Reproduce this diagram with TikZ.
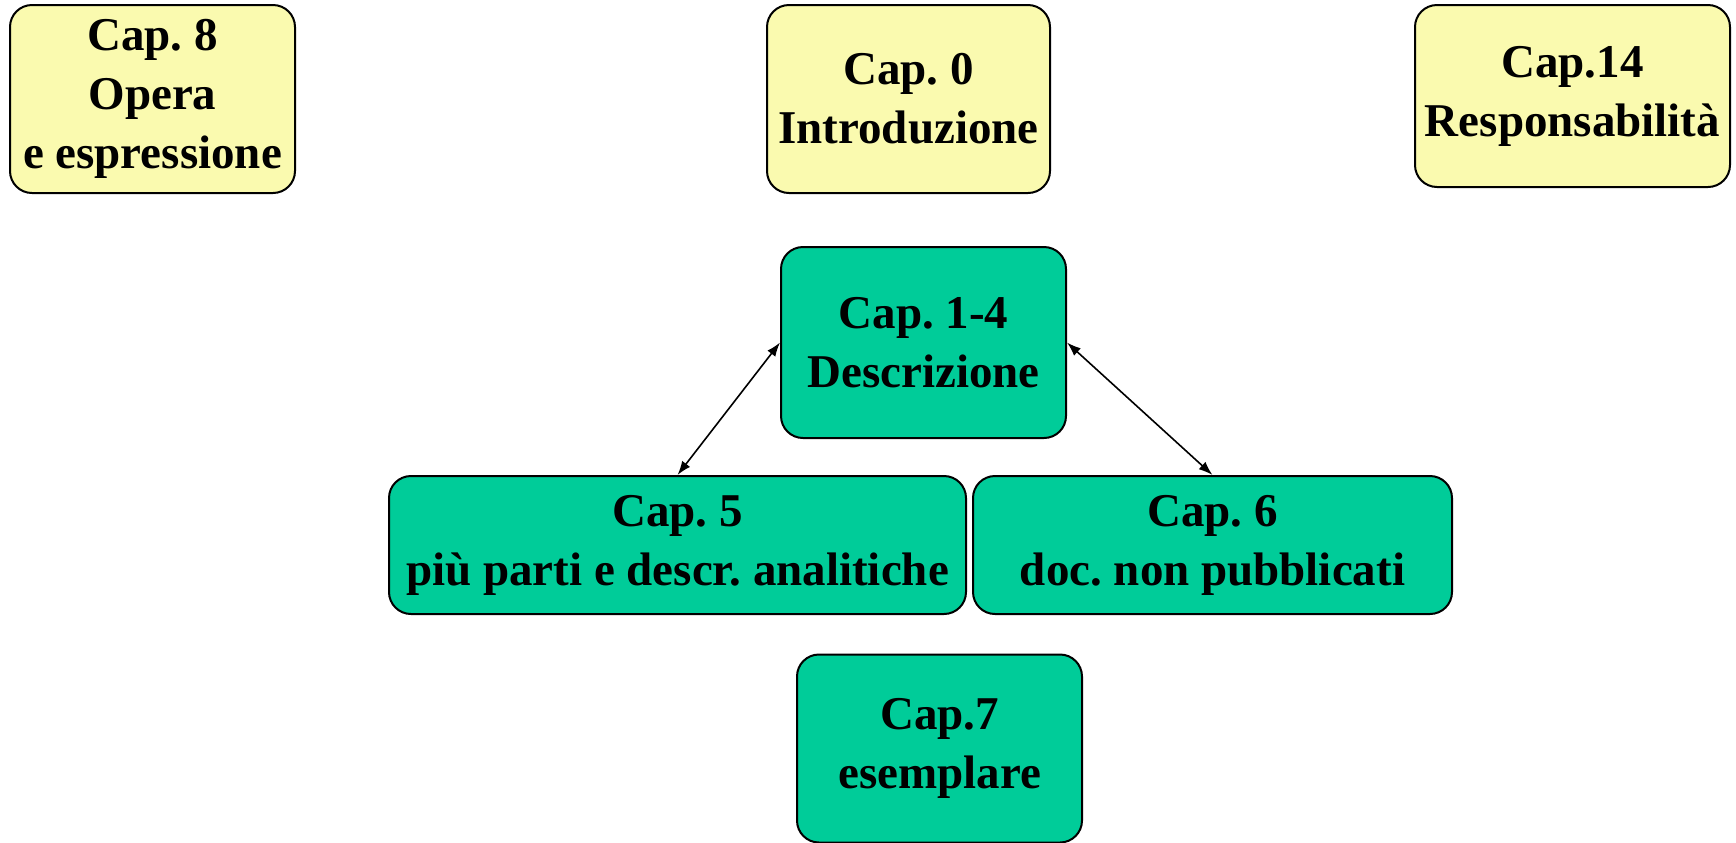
\documentclass[tikz,border=0pt]{standalone}
\usepackage{fontspec}
\setmainfont{Liberation Serif}
\usetikzlibrary{arrows.meta}
\definecolor{boxyellow}{RGB}{250,250,175}
\definecolor{boxgreen}{RGB}{0,204,153}
\tikzset{
  chap/.style={draw=black, line width=1pt, rounded corners=11pt, inner sep=0pt,
    align=center, font=\fontsize{23.5pt}{29.5pt}\selectfont\bfseries\frenchspacing},
  yellowbox/.style={chap, fill=boxyellow},
  greenbox/.style={chap, fill=boxgreen},
  link/.style={line width=0.8pt, {Latex[length=7pt,width=5pt]}-{Latex[length=7pt,width=5pt]}}
}
\begin{document}
\frenchspacing
\begin{tikzpicture}[x=0.5pt,y=-0.5pt]
\useasboundingbox (0,0) rectangle (1736,842);
\node[yellowbox, minimum width=142.5pt, minimum height=94pt] (c8) at (152.5,99) {Cap. 8\\Opera\\e espressione};
\node[yellowbox, minimum width=141.5pt, minimum height=94pt] (c0) at (908.5,99) {Cap. 0\\Introduzione};
\node[yellowbox, minimum width=157.5pt, minimum height=91pt] (c14) at (1572.5,96) {Cap.14\\Responsabilità};
\node[greenbox, minimum width=142.5pt, minimum height=95.5pt] (c1) at (923.5,342.5) {Cap. 1-4\\Descrizione};
\node[greenbox, minimum width=288.5pt, minimum height=69pt] (c5) at (677.5,545) {Cap. 5\\più parti e descr. analitiche};
\node[greenbox, minimum width=239.5pt, minimum height=69pt] (c6) at (1212.5,545) {Cap. 6\\doc. non pubblicati};
\node[greenbox, minimum width=142.5pt, minimum height=94pt] (c7) at (939.5,748.5) {Cap.7\\esemplare};
\draw[link] (c1.west) -- (c5.north);
\draw[link] (c1.east) -- (c6.north);
\end{tikzpicture}
\end{document}
